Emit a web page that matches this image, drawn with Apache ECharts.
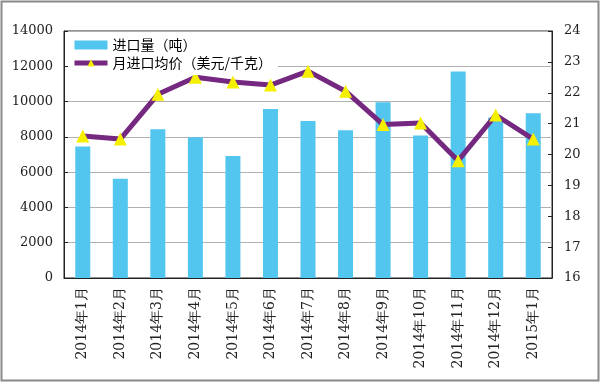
<!DOCTYPE html>
<html><head><meta charset="utf-8">
<script src="https://cdn.jsdelivr.net/npm/echarts@6/dist/echarts.min.js"></script>
<style>html,body{margin:0;padding:0;background:#fff}#c{width:600px;height:382px}</style>
</head><body><div id="c"></div>
<script>
const categories = ['2014年1月','2014年2月','2014年3月','2014年4月','2014年5月','2014年6月','2014年7月','2014年8月','2014年9月','2014年10月','2014年11月','2014年12月','2015年1月'];
const volume = [7450, 5630, 8430, 7980, 6920, 9580, 8900, 8370, 9960, 8070, 11700, 9100, 9340];
const price = [20.6, 20.5, 21.95, 22.5, 22.35, 22.25, 22.7, 22.05, 20.97, 21.02, 19.8, 21.28, 20.5];
const leftTicks = [0, 2000, 14000];
const rightTicks = [16, 1, 24];
const volName = '进口量（吨）';
const priceName = '月进口均价（美元/千克）';

const chart = echarts.init(document.getElementById('c'));
const numFont = 'DejaVu Serif';
chart.setOption({
  animation: false,
  backgroundColor: '#fff',
  graphic: [{type:'rect', shape:{x:1.5,y:1.5,width:597,height:379}, style:{fill:'none', stroke:'#8a8a8a', lineWidth:2}, z:100}],
  grid: {left: 64, right: 48, top: 31, bottom: 104, show: true, borderColor: '#222', borderWidth: 1},
  legend: {
    orient: 'vertical', left: 68, top: 36, itemGap: 4,
    backgroundColor: '#fff', padding: [2, 6, 5, 4],
    itemWidth: 33, itemHeight: 9,
    textStyle: {fontSize: 14, color: '#000', fontFamily: 'Noto Sans CJK SC'},
    data: [
      {name: volName, icon: 'rect'},
      {name: priceName, lineStyle: {width: 5, color: '#74287f'}, itemStyle: {color: '#f4f000'}}
    ]
  },
  xAxis: {
    type: 'category', data: categories,
    axisLine: {lineStyle: {color: '#222'}},
    axisTick: {inside: true, length: 4, lineStyle: {color: '#222'}},
    axisLabel: {rotate: 90, fontSize: 14, color: '#222', margin: 9, fontFamily: numFont}
  },
  yAxis: [{
    type: 'value', min: leftTicks[0], max: leftTicks[2], interval: leftTicks[1],
    axisLine: {show: true, lineStyle: {color: '#222'}},
    axisTick: {show: true, inside: true, length: 4, lineStyle: {color: '#222'}},
    splitLine: {lineStyle: {color: '#b0b0b0'}},
    axisLabel: {fontSize: 13, color: '#222', margin: 11, fontFamily: numFont, formatter: v => String(v)}
  }, {
    type: 'value', min: rightTicks[0], max: rightTicks[2], interval: rightTicks[1],
    axisLine: {show: true, lineStyle: {color: '#222'}},
    axisTick: {show: true, inside: true, length: 4, lineStyle: {color: '#222'}},
    splitLine: {show: false},
    axisLabel: {fontSize: 13, color: '#222', margin: 12, fontFamily: numFont}
  }],
  series: [{
    name: volName, type: 'bar', data: volume, barWidth: 15,
    itemStyle: {color: '#52c6ef'}
  }, {
    name: priceName, type: 'line', yAxisIndex: 1, data: price,
    symbol: 'triangle', symbolSize: 13,
    lineStyle: {color: '#74287f', width: 5},
    itemStyle: {color: '#f4f000', borderWidth: 0}
  }]
});
</script></body></html>
